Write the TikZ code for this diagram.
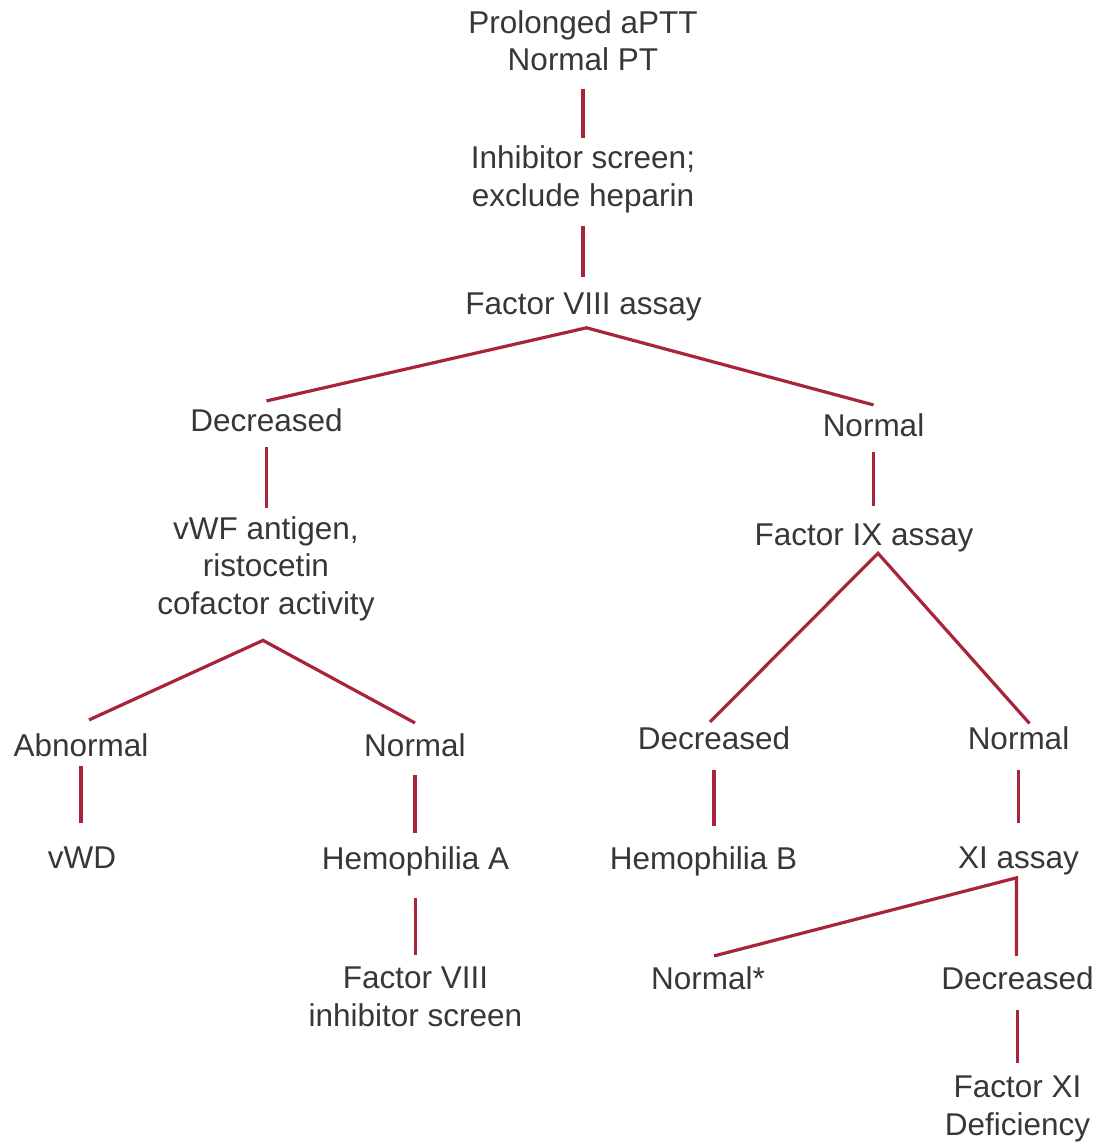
\documentclass[tikz,border=0pt]{standalone}
\usepackage{fontspec}
\setmainfont{Liberation Sans}
\definecolor{linkred}{RGB}{168,36,56}
\definecolor{textgray}{RGB}{55,55,55}
\tikzset{%
  entry/.style={inner sep=0pt,align=center,text=textgray,
    font=\fontsize{31.5}{37.5}\selectfont},
  link/.style={line width=3.2pt,draw=#1},
  link/.default=linkred
}

\begin{document}
\begin{tikzpicture}[x=1pt,y=-1pt]

    \useasboundingbox (0,0) rectangle (1098,1143);

    % Test steps and results (positions in pixels, y downwards)
    \node[entry] (root)  at (583,40.5)    {Prolonged aPTT\\Normal PT};
    \node[entry] (inh)   at (583,179.5)   {Inhibitor screen;\\exclude heparin};
    \node[entry] (f8)    at (583.5,307)   {Factor VIII assay};
    \node[entry] (dec1)  at (266.5,420.7) {Decreased};
    \node[entry] (nor1)  at (873.5,425.7) {Normal};
    \node[entry] (vwf)   at (266,568.5)   {vWF antigen,\\ristocetin\\cofactor activity};
    \node[entry] (f9)    at (864,538)     {Factor IX assay};
    \node[entry] (abn)   at (81,745.7)    {Abnormal};
    \node[entry] (nor2)  at (415,745.7)   {Normal};
    \node[entry] (dec2)  at (714,738.7)   {Decreased};
    \node[entry] (nor3)  at (1018.5,738.7) {Normal};
    \node[entry] (vwd)   at (82,857.7)    {vWD};
    \node[entry] (hemA)  at (415.5,861)   {Hemophilia A};
    \node[entry] (hemB)  at (703.5,861)   {Hemophilia B};
    \node[entry] (xi)    at (1018.5,861)  {XI assay};
    \node[entry] (f8inh) at (415.5,996.7) {Factor VIII\\inhibitor screen};
    \node[entry] (nor4)  at (708,978.7)   {Normal*};
    \node[entry] (dec3)  at (1017.5,978.7) {Decreased};
    \node[entry] (f11)   at (1017.5,1109) {Factor XI\\Deficiency};

    % Main trunk
    \draw[link] ([yshift=-18pt]root.south) -- ([yshift=8pt]root.south |- inh.north);
    \draw[link] ([yshift=-12.5pt]inh.south) -- ([yshift=16pt]inh.south |- f8.north);
    \draw[link] ([yshift=8pt]dec1.north) -- ([xshift=3pt,yshift=-6.5pt]f8.south)
        -- ([yshift=9pt]nor1.north);
    \draw[link] ([yshift=-15pt]dec1.south) -- ([yshift=8pt]dec1.south |- vwf.north);
    \draw[link] ([yshift=-15pt]nor1.south) -- ([yshift=18pt]nor1.south |- f9.north);

    % vWF branch
    \draw[link] ([xshift=8pt,yshift=14pt]abn.north) -- ([xshift=-3pt,yshift=-19.5pt]vwf.south)
        -- ([yshift=11pt]nor2.north);
    \draw[link] ([yshift=-9pt]abn.south) -- ([yshift=24pt]abn.south |- vwd.north);
    \draw[link] ([yshift=-18pt]nor2.south) -- ([yshift=13pt]nor2.south |- hemA.north);
    \draw[link] ([yshift=-22.5pt]hemA.south) -- ([yshift=12pt]hemA.south |- f8inh.north);

    % Factor IX branch
    \draw[link] ([xshift=-4pt,yshift=5pt]dec2.north) -- ([xshift=14pt,yshift=-1pt]f9.south)
        -- ([xshift=11pt,yshift=3.5pt]nor3.north);
    \draw[link] ([yshift=-20pt]dec2.south) -- ([yshift=20pt]dec2.south |- hemB.north);
    \draw[link] ([yshift=-20pt]nor3.south) -- ([yshift=24pt]nor3.south |- xi.north);

    % XI branch
    \draw[link] ([xshift=6pt,yshift=11pt]nor4.north) -- ([xshift=-2pt,yshift=-2.5pt]xi.south)
        -- ([xshift=-2pt,yshift=11pt]xi.south |- dec3.north);
    \draw[link] ([yshift=-20pt]dec3.south) -- ([yshift=13pt]dec3.south |- f11.north);

\end{tikzpicture}
\end{document}
